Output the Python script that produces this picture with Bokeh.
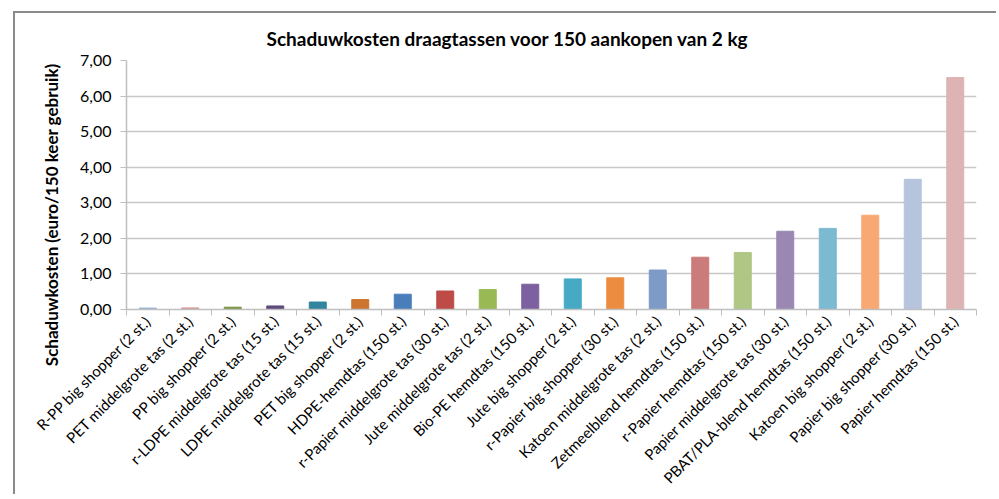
from bokeh.plotting import figure
from bokeh.models import FixedTicker, Title, Range1d
from bokeh.embed import file_html
from bokeh.resources import INLINE

categories = [
    "R-PP big shopper (2 st.)",
    "PET middelgrote tas (2 st.)",
    "PP big shopper (2 st.)",
    "r-LDPE middelgrote tas (15 st.)",
    "LDPE middelgrote tas (15 st.)",
    "PET big shopper (2 st.)",
    "HDPE-hemdtas (150 st.)",
    "r-Papier middelgrote tas (30 st.)",
    "Jute middelgrote tas (2 st.)",
    "Bio-PE hemdtas (150 st.)",
    "Jute big shopper (2 st.)",
    "r-Papier big shopper (30 st.)",
    "Katoen middelgrote tas (2 st.)",
    "Zetmeelblend hemdtas (150 st.)",
    "r-Papier hemdtas (150 st.)",
    "Papier middelgrote tas (30 st.)",
    "PBAT/PLA-blend hemdtas (150 st.)",
    "Katoen big shopper (2 st.)",
    "Papier big shopper (30 st.)",
    "Papier hemdtas (150 st.)",
]
values = [0.04, 0.045, 0.065, 0.10, 0.21, 0.28, 0.43, 0.52, 0.56, 0.71,
          0.86, 0.89, 1.11, 1.47, 1.60, 2.20, 2.28, 2.65, 3.66, 6.52]
colors = ["#95B3D7", "#D99795", "#77933C", "#604A7B", "#31859C", "#CD7430",
          "#4A7EBB", "#BE4B48", "#98B954", "#7D60A0", "#46AAC5", "#EC8C41",
          "#7E9BC8", "#CB7B79", "#AFC685", "#9A88B3", "#7BBAD0", "#F8A973",
          "#B6C4DD", "#DEB3B3"]
y_ticks = [0, 1, 2, 3, 4, 5, 6, 7]

title_text = "Schaduwkosten draagtassen voor 150  aankopen van 2 kg"
y_title = "Schaduwkosten (euro/150 keer gebruik)"
FONT = "Lato"

n = len(categories)
xs = [i + 0.5 for i in range(n)]

p = figure(width=983, height=483, output_backend="svg", toolbar_location=None,
           x_range=Range1d(0, n), y_range=Range1d(0, 7),
           min_border_left=111, min_border_right=22, min_border_top=47,
           min_border_bottom=174)
p.styles = {"margin-left": "13px", "margin-top": "11px",
            "border-left": "2px solid #8A8A8A", "border-top": "2px solid #8A8A8A",
            "border-right": "none", "border-bottom": "none"}
p.outline_line_color = None
p.background_fill_color = "white"
p.border_fill_color = "white"

p.vbar(x=xs, top=values, width=0.4, bottom=0, fill_color=colors,
       line_color=colors, line_width=1)

t = Title(text=title_text, align="left", offset=140, text_font=FONT,
          text_font_size="19px", text_font_style="bold", text_color="#000000",
          standoff=22)
p.add_layout(t, "above")

# x axis
xa = p.xaxis[0]
xa.ticker = FixedTicker(ticks=xs, minor_ticks=list(range(n + 1)))
xa.major_label_overrides = {x: c for x, c in zip(xs, categories)}
xa.major_label_orientation = 0.7854
xa.major_tick_line_color = None
xa.minor_tick_line_color = "#BFBFBF"
xa.minor_tick_out = 6
xa.minor_tick_in = 0
xa.axis_line_color = "#BFBFBF"
xa.axis_line_width = 1.5
xa.major_label_text_font = FONT
xa.major_label_text_font_size = "15px"
xa.major_label_text_color = "#000000"
xa.major_label_standoff = 3

# y axis
ya = p.yaxis[0]
ya.ticker = FixedTicker(ticks=y_ticks, minor_ticks=[])
ya.major_label_overrides = {v: f"{v:.2f}".replace(".", ",") for v in y_ticks}
ya.major_tick_line_color = "#BFBFBF"
ya.major_tick_out = 6
ya.major_tick_in = 0
ya.axis_line_color = "#BFBFBF"
ya.axis_line_width = 1.5
ya.major_label_text_font = FONT
ya.major_label_text_font_size = "16px"
ya.major_label_text_color = "#000000"
ya.major_label_standoff = 9

ytitle = Title(text=y_title, align="right", offset=3, text_font=FONT,
               text_font_size="17px", text_font_style="bold",
               text_color="#000000", standoff=32)
p.add_layout(ytitle, "left")

p.xgrid.grid_line_color = None
p.ygrid.ticker = FixedTicker(ticks=y_ticks)
p.ygrid.grid_line_color = "#C8C8C8"
p.ygrid.grid_line_width = 1.5

open("out.html", "w").write(file_html(p, INLINE))
